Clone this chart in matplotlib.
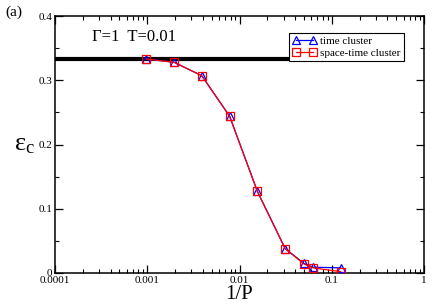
import matplotlib
matplotlib.use("Agg")
import matplotlib.pyplot as plt
from matplotlib.ticker import LogLocator, FixedLocator, NullFormatter

plt.rcParams['font.family'] = ['Liberation Serif', 'DejaVu Serif']
plt.rcParams['mathtext.fontset'] = 'stix'

inv_p = [1/1024, 1/512, 1/256, 1/128, 1/64, 1/32, 1/20, 1/16, 1/8]
time_cluster = [0.333, 0.328, 0.307, 0.244, 0.127, 0.038, 0.015, 0.009, 0.008]
space_time_cluster = [0.333, 0.328, 0.307, 0.244, 0.127, 0.038, 0.014, 0.008, 0.002]
classical_limit = 1/3
xtick_labels = ['0.0001', '0.001', '0.01', '0.1', '1']
ytick_labels = ['0', '0.1', '0.2', '0.3', '0.4']

fig = plt.figure(figsize=(4.36, 3.06), dpi=100)
ax = fig.add_axes([55/436, 1-273/306, 369/436, 257/306])

ax.plot([1e-4, 0.1], [classical_limit, classical_limit], color='black', lw=3, zorder=1)
ax.plot(inv_p, time_cluster, color='blue', lw=0.9, marker='^', ms=6, mfc='none',
        mec='blue', mew=0.9, label='time cluster', zorder=3)
ax.plot(inv_p, space_time_cluster, color='red', lw=0.9, marker='s', ms=6, mfc='none',
        mec='red', mew=0.9, label='space-time cluster', zorder=4)

ax.set_xscale('log')
ax.set_xlim(1e-4, 1)
ax.set_ylim(0, 0.4)
ax.xaxis.set_major_locator(FixedLocator([1e-4, 1e-3, 1e-2, 1e-1, 1]))
ax.set_xticklabels(xtick_labels)
ax.xaxis.set_minor_locator(LogLocator(base=10, subs=range(2, 10)))
ax.xaxis.set_minor_formatter(NullFormatter())
ax.set_yticks([0, 0.1, 0.2, 0.3, 0.4])
ax.set_yticklabels(ytick_labels)
ax.set_yticks([0.05, 0.15, 0.25, 0.35], minor=True)

ax.tick_params(which='both', direction='in', top=True, right=True, labelsize=8, pad=2)
ax.tick_params(which='major', length=6, width=0.9)
ax.tick_params(which='minor', length=3, width=0.8)
for s in ax.spines.values():
    s.set_linewidth(1.1)

ax.set_xlabel('1/P', fontsize=15, labelpad=0)
ax.set_ylabel(r'$\mathregular{\varepsilon_c}$', fontsize=19, rotation=0, labelpad=10, va='center')

ax.text(0.1, 0.918, 'Γ=1  T=0.01', transform=ax.transAxes, fontsize=12,
        va='center', ha='left')
fig.text(5/436, 1-12/306, '(a)', fontsize=11, va='center', ha='left')

leg = ax.legend(loc='upper right', bbox_to_anchor=(0.945, 0.935), fontsize=8, numpoints=2,
                frameon=True, fancybox=False, edgecolor='black', framealpha=1,
                borderpad=0.3, labelspacing=0.2, handlelength=2.2, handletextpad=0.3,
                borderaxespad=0)
leg.get_frame().set_linewidth(0.8)

fig.savefig('out.png', dpi=100)
